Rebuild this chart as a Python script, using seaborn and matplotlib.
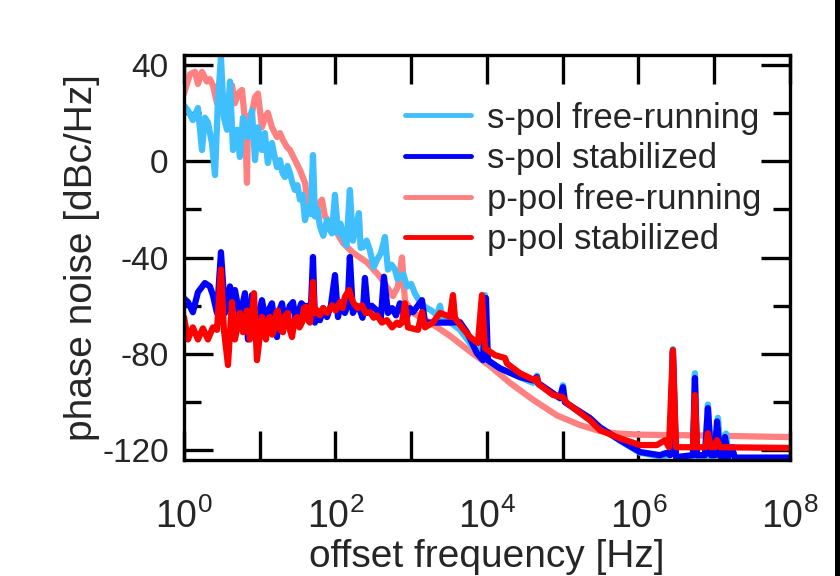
import pandas as pd
import matplotlib
matplotlib.use("Agg")
import matplotlib.pyplot as plt
from matplotlib.lines import Line2D
from matplotlib.ticker import NullLocator
import seaborn as sns

# offset frequency [Hz] / phase noise [dBc/Hz]
s_free_f = [1.0, 1.13, 1.31, 1.53, 1.73, 1.89, 2.07, 2.34, 2.57, 2.81,
            3.08, 3.37, 3.70, 4.05, 4.44, 5.01, 5.48, 6.01, 6.5, 7.0,
            7.9, 8.66, 9.48, 10.7, 11.7, 12.8, 14.5, 15.7, 16.9, 18.5,
            20, 21.5, 23.3, 25.1, 27, 29.2, 31.5, 34, 36.8, 39.6,
            43.4, 47, 50.5, 53.6, 57.8, 62.4, 69, 77.3, 83, 89.9,
            98.5, 108, 117, 126, 140, 155, 170, 187, 204, 215,
            231, 258, 285, 320, 353, 400, 450, 493, 550, 610,
            660, 710, 790, 879, 1000, 1122, 1306, 1520, 1850, 2188,
            2400, 2626, 3300, 4400, 5970, 8090, 9420, 10000, 14860, 40500,
            45700, 47100, 92000, 100700, 107000, 229000, 310000, 570000, 1.05e6, 1.92e6,
            2.61e6, 2.85e6, 3.13e6, 5.24e6, 5.57e6, 5.92e6, 7.55e6, 8.26e6, 9.06e6, 1.02e7,
            1.12e7, 1.23e7, 1.33e7, 1.43e7, 1.57e7, 2.97e7, 1e8]
s_free_db = [23, 21, 17, 22, 4.6, 18, 16, 7.5, -5.8, 25,
             43, 18, 13, 33, 4.6, 13, 1.7, 18, 12, 10,
             21, 0.4, 14, 4.6, 11.6, -0.8, 7.5, 2, -2.5, 0.4,
             -5, -6.6, -2, -5, -9, -12, -10, -16, -14, -24.5,
             -19, -22, 2.5, -23, -20, -27, -31, -24.5, -28, -30,
             -14, -30, -26, -31.5, -35, -12, -33, -28, -21.6, -36,
             -35.7, -33, -37, -44, -41, -38, -31.5, -45, -43, -45,
             -49, -48, -47, -52, -51, -55, -58.5, -60.5, -62, -64,
             -60, -66, -67, -70, -75.5, -81, -55.6, -82.6, -86, -92,
             -89, -92.5, -98.5, -93, -100, -107.5, -110.5, -116, -121, -122.5,
             -122, -78, -123, -123, -88, -123, -123, -101, -123, -123,
             -106.5, -123, -123, -113, -123.5, -123.8, -123.8]

s_stab_f = [1.0, 1.13, 1.31, 1.53, 1.89, 2.2, 2.41, 2.73, 3.08, 3.48,
            4.05, 4.44, 4.71, 5.48, 6.38, 7.0, 7.9, 9.2, 10.7, 11.5,
            12.5, 13.5, 14.5, 15.6, 16.9, 18.2, 19.7, 21.2, 22.9, 25,
            27.5, 29.5, 32, 35.5, 39.6, 43.4, 47, 50.5, 53.6, 57.5,
            62.4, 69, 77.3, 87, 98.5, 108, 118, 133, 145, 155,
            170, 190, 211, 228, 245, 269, 300, 353, 395, 437,
            493, 560, 630, 710, 790, 879, 960, 1055, 1387, 1520,
            2400, 3250, 4400, 5450, 7380, 8860, 9700, 10300, 14860, 27300,
            40500, 45700, 47100, 92000, 100700, 107000, 229000, 310000, 570000, 1.05e6,
            1.92e6, 2.38e6, 2.61e6, 2.85e6, 3.13e6, 5.24e6, 5.57e6, 5.92e6, 7.55e6, 8.26e6,
            9.06e6, 1.02e7, 1.09e7, 1.2e7, 1.3e7, 1.39e7, 1.52e7, 1.71e7, 1.88e7, 1e8]
s_stab_db = [-57, -58.5, -62.7, -54.4, -50.6, -52, -55.6, -63, -37.8, -63,
             -52, -73, -53.5, -64.7, -54.8, -74, -55.6, -67, -57.7, -63,
             -69, -61, -59, -66, -73, -62, -59, -66, -64.7, -60,
             -58.5, -65, -63, -59, -60.5, -60, -64, -39.8, -67, -62,
             -66, -61, -64.7, -60, -47.3, -64.7, -59, -63, -60, -39.8,
             -63, -60, -62, -65, -48.5, -63, -60, -62, -66, -48,
             -63, -61, -64, -59, -63, -64.7, -61, -62.7, -57.7, -67,
             -67, -67, -66.8, -71, -79.7, -82.6, -56.8, -82.6, -86, -89.6,
             -91, -89.6, -92, -98.3, -93.8, -100, -106.6, -110.4, -115.8, -120.7,
             -122, -121, -122, -79, -122.8, -122, -90, -122, -122, -102.5,
             -122, -122, -108, -122.5, -122.5, -114.5, -123, -118.7, -123, -123]

p_free_f = [1.0, 1.2, 1.4, 1.53, 1.73, 2.01, 2.2, 2.41, 2.73, 3.17,
            3.70, 4.30, 4.71, 5.16, 5.83, 6.38, 6.79, 7.0, 7.9, 8.66,
            9.48, 10.7, 11.7, 12.8, 14.5, 16.9, 18.5, 20.3, 22.9, 25.1,
            29.2, 34, 39.6, 42.1, 53.6, 66.3, 72.6, 92.7, 126, 170,
            261, 387, 574, 668, 755, 827, 1055, 1770, 3250, 5970,
            10960, 20100, 40500, 84000, 169000, 310000, 520000, 1.05e6, 6.5e6, 1e8]
p_free_db = [28, 36, 37, 32, 37, 33, 34, 31.5, 24, 26.5,
             18, 31.5, 24, 28, 29.5, 17, -9, 18, 20, 26.5,
             28, 14, 18, 20, 14, 10, 11.6, 8.7, 5.8, 4.6,
             0.4, -3.7, -9, -16, -20, -16, -23, -27, -34, -38,
             -42, -48, -56, -52, -40, -58, -63, -67, -72.5, -79,
             -85, -92, -99, -105.5, -109.5, -112, -113, -113.5, -113.8, -114.5]

p_stab_f = [1.0, 1.13, 1.31, 1.53, 1.78, 2.07, 2.41, 2.73, 3.08, 3.37,
            3.81, 4.30, 4.71, 5.48, 6.01, 6.79, 7.43, 8.4, 9.2, 10.7,
            11.4, 12.1, 12.8, 13.6, 14.7, 15.9, 16.6, 17.4, 18.8, 20.3,
            21.8, 23.6, 25, 26.7, 28.8, 31, 33.5, 36.1, 38.3, 40.8,
            43.3, 46, 48, 50.5, 53, 57, 62, 68.4, 78, 89.9,
            100, 115, 124, 133, 151, 170, 195, 224, 250, 285,
            320, 353, 410, 478, 560, 649, 700, 755, 827, 906,
            1230, 1390, 1520, 1937, 2400, 3250, 3560, 3780, 4680, 5970,
            7600, 8590, 9420, 12760, 17290, 18400, 27300, 43000, 45700, 48000,
            74300, 100700, 114000, 229000, 310000, 570000, 1.05e6, 1.75e6, 2.24e6, 2.53e6,
            2.85e6, 3.13e6, 5.24e6, 5.57e6, 5.92e6, 7.7e6, 8.26e6, 9.06e6, 1.02e7, 1.09e7,
            1.2e7, 1e8]
p_stab_db = [-64.7, -74, -69, -74, -69.4, -74, -69, -70, -45, -70,
             -84.6, -58.5, -74, -63, -71, -62, -74, -54.8, -82.6, -64.7,
             -70, -74, -66, -64.7, -72, -69, -63, -62, -70, -71,
             -64, -63, -70, -73, -66, -64.7, -69, -67, -61, -60.5,
             -66, -67, -62, -50.2, -63, -62, -64, -61, -63, -59.8,
             -62, -58.5, -61, -56.4, -53.5, -58.5, -61, -59.8, -63, -62.7,
             -65, -64, -67, -66, -69, -67, -68, -67, -59, -69,
             -70, -62.6, -69, -67, -63, -64.6, -55.6, -65, -69, -73,
             -75.5, -55.6, -77.6, -80.5, -81.7, -84, -88, -91, -90, -92.5,
             -97, -98, -100.4, -107.5, -111.6, -115, -117.8, -117.8, -115.8, -118.7,
             -78.4, -118.7, -118.7, -97, -118.7, -118.7, -112.9, -118.7, -118.7, -115.8,
             -118.7, -119]

x_ticks = [1e0, 1e1, 1e2, 1e3, 1e4, 1e5, 1e6, 1e7, 1e8]
x_tick_labels = [r"$\mathrm{10^{0}}$", "", r"$\mathrm{10^{2}}$", "", r"$\mathrm{10^{4}}$", "",
                 r"$\mathrm{10^{6}}$", "", r"$\mathrm{10^{8}}$"]
y_ticks = [-120, -80, -40, 0, 40]
y_minor = [-100, -60, -20, 20]

traces = {
    "s-pol free-running": (s_free_f, s_free_db, "#40BFFF"),
    "s-pol stabilized": (s_stab_f, s_stab_db, "#0000FF"),
    "p-pol free-running": (p_free_f, p_free_db, "#FF8080"),
    "p-pol stabilized": (p_stab_f, p_stab_db, "#FF0000"),
}
draw_order = ["p-pol free-running", "s-pol free-running", "s-pol stabilized", "p-pol stabilized"]

sns.set_style("ticks")
plt.rcParams["font.family"] = ["Liberation Sans", "DejaVu Sans"]
plt.rcParams["mathtext.fontset"] = "custom"
plt.rcParams["mathtext.rm"] = "Liberation Sans"
plt.rcParams["mathtext.it"] = "Liberation Sans:italic"
plt.rcParams["axes.unicode_minus"] = False

fig = plt.figure(figsize=(8.4, 5.76), dpi=100)
ax = fig.add_axes([0.219, 0.2014, 0.7214, 0.7031])

for name in draw_order:
    f, db, color = traces[name]
    df = pd.DataFrame({"freq": f, "noise": db})
    sns.lineplot(data=df, x="freq", y="noise", ax=ax, color=color, linewidth=4.5,
                 estimator=None, sort=False, label=name)
for line in ax.get_lines():
    line.set_linewidth(4.5)

ax.set_xscale("log")
ax.set_xlim(1, 1e8)
ax.set_ylim(-124, 44)
ax.set_xticks(x_ticks)
ax.set_xticklabels(x_tick_labels)
ax.xaxis.set_minor_locator(NullLocator())
ax.set_yticks(y_ticks)
ax.set_yticks(y_minor, minor=True)

ax.tick_params(which="both", direction="in", top=True, right=True, width=2.4,
               color="black")
ax.tick_params(which="major", length=21)
ax.tick_params(which="minor", length=12)
ax.tick_params(axis="x", pad=28, labelsize=27)
ax.tick_params(axis="y", pad=11, labelsize=24)
for sp in ax.spines.values():
    sp.set_linewidth(2.4)
    sp.set_color("black")

ax.set_xlabel("offset frequency [Hz]", fontsize=28)
ax.xaxis.set_label_coords(0.5, -0.195)
ax.set_ylabel("phase noise [dBc/Hz]", fontsize=28)
ax.yaxis.set_label_coords(-0.139, 0.5)

handles, labels = ax.get_legend_handles_labels()
lookup = dict(zip(labels, handles))
order = list(traces.keys())
leg = ax.legend([lookup[k] for k in order], order, loc="upper left",
                bbox_to_anchor=(0.3647, 0.885), frameon=False, fontsize=25,
                handlelength=1.9, handletextpad=0.45, labelspacing=0.22,
                borderaxespad=0, borderpad=0)
for line in leg.get_lines():
    line.set_linewidth(3.5)

fig.add_artist(Line2D([0.997, 0.997], [0, 1], transform=fig.transFigure,
                      color="black", linewidth=3.6))

fig.savefig("out.png", dpi=100)
